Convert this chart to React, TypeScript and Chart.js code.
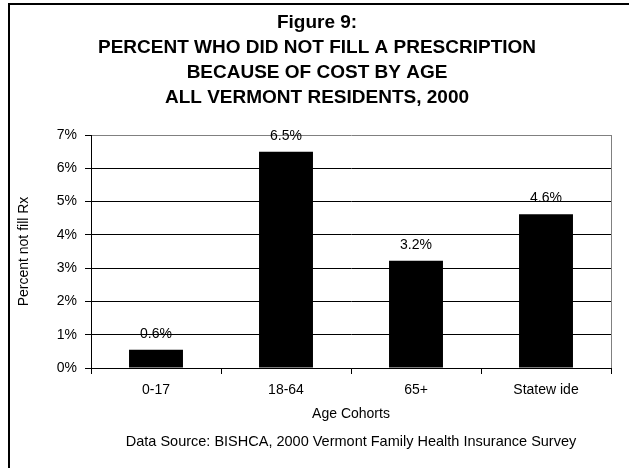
import React, { useEffect, useRef } from "react";
import { Chart, registerables } from "chart.js";

Chart.register(...registerables);

const categories = ["0-17", "18-64", "65+", "Statew ide"];
const values = [0.55, 6.5, 3.22, 4.62];
const valueLabels = ["0.6%", "6.5%", "3.2%", "4.6%"];
const yTickValues = [0, 1, 2, 3, 4, 5, 6, 7];
const titleLines = [
  "Figure 9:",
  "PERCENT WHO DID NOT FILL A PRESCRIPTION",
  "BECAUSE OF COST BY AGE",
  "ALL VERMONT RESIDENTS, 2000",
];
const xTitle = "Age Cohorts";
const yTitle = "Percent not fill Rx";
const sourceNote = "Data Source: BISHCA, 2000 Vermont Family Health Insurance Survey";

const FONT = "'Liberation Sans', Arial, Helvetica, sans-serif";
const W = 629;
const H = 468;

const decorPlugin = {
  id: "decor",
  beforeDraw(chart: any) {
    const ctx = chart.ctx;
    ctx.save();
    ctx.fillStyle = "#ffffff";
    ctx.fillRect(0, 0, W, H);
    ctx.fillStyle = "#000000";
    ctx.fillRect(9, 3, W - 9, 2);
    ctx.fillRect(8, 3, 2, H - 3);
    ctx.restore();
  },
  afterDraw(chart: any) {
    const ctx = chart.ctx;
    const area = chart.chartArea;
    ctx.save();
    // right border of plot
    ctx.strokeStyle = "#808080";
    ctx.lineWidth = 1;
    ctx.beginPath();
    ctx.moveTo(Math.round(area.right) + 0.5, area.top);
    ctx.lineTo(Math.round(area.right) + 0.5, area.bottom);
    ctx.stroke();

    // title
    ctx.fillStyle = "#000000";
    ctx.textAlign = "center";
    ctx.textBaseline = "middle";
    ctx.font = `bold 19px ${FONT}`;
    const titleY = [23, 48, 73, 98];
    titleLines.forEach((line, i) => {
      ctx.fillText(line, 317, titleY[i]);
    });

    // axis titles
    const cx = (area.left + area.right) / 2;
    ctx.font = `14px ${FONT}`;
    ctx.fillText(xTitle, cx, 414);
    ctx.font = `14.5px ${FONT}`;
    ctx.fillText(sourceNote, cx, 442);

    ctx.save();
    ctx.translate(24, (area.top + area.bottom) / 2);
    ctx.rotate(-Math.PI / 2);
    ctx.font = `14px ${FONT}`;
    ctx.fillText(yTitle, 0, 0);
    ctx.restore();

    // value labels
    const meta = chart.getDatasetMeta(0);
    ctx.font = `14px ${FONT}`;
    ctx.textBaseline = "alphabetic";
    meta.data.forEach((bar: any, i: number) => {
      ctx.fillText(valueLabels[i], bar.x, bar.y - 12);
    });
    ctx.restore();
  },
};

export default function App() {
  const ref = useRef<HTMLCanvasElement | null>(null);

  useEffect(() => {
    if (!ref.current) return;
    const chart = new Chart(ref.current, {
      type: "bar",
      data: {
        labels: categories,
        datasets: [
          {
            data: values,
            backgroundColor: "#000000",
            borderWidth: 0,
            categoryPercentage: 1,
            barPercentage: 0.415,
          },
        ],
      },
      options: {
        responsive: false,
        animation: false,
        devicePixelRatio: 1,
        layout: { padding: { top: 135, right: 18, bottom: 0, left: 0 } },
        plugins: {
          legend: { display: false },
          title: { display: false },
          tooltip: { enabled: false },
        },
        scales: {
          x: {
            grid: {
              display: true,
              drawOnChartArea: false,
              drawTicks: true,
              tickLength: 6,
              color: "#000000",
              offset: true,
            },
            border: { color: "#000000", width: 1 },
            ticks: {
              color: "#000000",
              font: { family: FONT, size: 14 },
              padding: 8,
              maxRotation: 0,
            },
            afterFit: (s: any) => {
              s.height = 100;
            },
          },
          y: {
            min: 0,
            max: 7,
            afterBuildTicks: (s: any) => {
              s.ticks = yTickValues.map((v) => ({ value: v }));
            },
            ticks: {
              callback: (v: any) => `${v}%`,
              color: "#000000",
              font: { family: FONT, size: 14 },
              padding: 8,
            },
            grid: {
              color: (c: any) => (c.tick && c.tick.value === 7 ? "#808080" : "#000000"),
              tickColor: "#000000",
              tickLength: 6,
              lineWidth: 1,
            },
            border: { color: "#000000", width: 1 },
            afterFit: (s: any) => {
              s.width = 91;
            },
          },
        },
      },
      plugins: [decorPlugin],
    });
    return () => chart.destroy();
  }, []);

  return (
    <div style={{ position: "fixed", left: 0, top: 0, width: W, height: H, background: "#fff" }}>
      <canvas ref={ref} width={W} height={H} style={{ display: "block", width: W, height: H }} />
    </div>
  );
}
